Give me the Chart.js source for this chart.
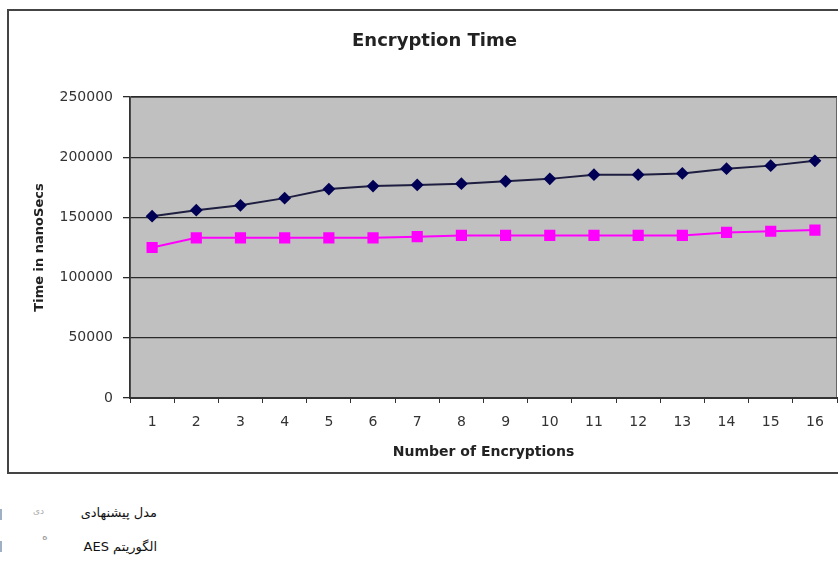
<!DOCTYPE html>
<html>
<head>
<meta charset="utf-8">
<script src="https://cdn.jsdelivr.net/npm/chart.js@4.4.1/dist/chart.umd.min.js"></script>
<style>
  html, body { margin: 0; padding: 0; background: #fff; }
  #page { position: relative; width: 838px; height: 561px; overflow: hidden; }
  #c { position: absolute; left: 0; top: 0; }
  .leg { position: absolute; right: 681px; direction: rtl; white-space: nowrap;
         font-family: "DejaVu Sans", sans-serif; font-size: 13px; color: #111; }
  .key { position: absolute; direction: rtl; white-space: nowrap;
         font-family: "DejaVu Sans", sans-serif; font-size: 9px; color: #aaa; }
  .sw { position: absolute; left: 0; width: 2px; height: 11px; background: #9fb0c4; }
</style>
</head>
<body>
<div id="page">
  <canvas id="c" width="838" height="480"></canvas>
  <div class="sw" style="top:509px"></div>
  <div class="key" style="left:33px; top:506px">دی</div>
  <div class="leg" style="top:505px">مدل پیشنهادی</div>
  <div class="sw" style="top:541px"></div>
  <div class="key" style="left:42px; top:530px; font-size:11px; color:#999">ه</div>
  <div class="leg" style="top:539px">الگوریتم AES</div>
</div>
<script>
// Encryption time per run, in nanoseconds
const categories = ['1', '2', '3', '4', '5', '6', '7', '8', '9', '10', '11', '12', '13', '14', '15', '16'];
const proposedModel = [151000, 156000, 160000, 166000, 173500, 176000, 177000, 178000,
                       180000, 182000, 185500, 185500, 186500, 190500, 193000, 197000];
const aesAlgorithm  = [125000, 133000, 133000, 133000, 133000, 133000, 134000, 135000,
                       135000, 135000, 135000, 135000, 135000, 137500, 138500, 139500];
const yTickValues = [0, 50000, 100000, 150000, 200000, 250000];
const seriesNames = ['مدل پیشنهادی', 'الگوریتم AES'];

const FONT = 'DejaVu Sans';
const INK = '#333333';

// Outer frame and grey plot panel
const framePlugin = {
  id: 'frame',
  beforeDraw(chart) {
    const { ctx, chartArea: a } = chart;
    ctx.save();
    ctx.fillStyle = '#ffffff';
    ctx.fillRect(0, 0, chart.width, chart.height);
    ctx.strokeStyle = '#444444';
    ctx.lineWidth = 2;
    ctx.strokeRect(8, 10, 840, 463);
    ctx.fillStyle = '#c0c0c0';
    ctx.fillRect(a.left, a.top, a.right - a.left, a.bottom - a.top);
    ctx.strokeStyle = '#666666';
    ctx.lineWidth = 1;
    ctx.strokeRect(a.left + 0.5, a.top + 0.5, a.right - a.left - 1, a.bottom - a.top - 1);
    ctx.restore();
  }
};

new Chart(document.getElementById('c'), {
  type: 'line',
  data: {
    labels: categories,
    datasets: [
      {
        label: seriesNames[0],
        data: proposedModel,
        borderColor: '#1e1e40',
        borderWidth: 2,
        pointStyle: 'rectRot',
        pointRadius: 5,
        pointBackgroundColor: '#000055',
        pointBorderColor: '#000055',
        tension: 0
      },
      {
        label: seriesNames[1],
        data: aesAlgorithm,
        borderColor: '#ff00ff',
        borderWidth: 2,
        pointStyle: 'rect',
        pointRadius: 6.5,
        pointBackgroundColor: '#ff00ff',
        pointBorderColor: '#ff00ff',
        tension: 0
      }
    ]
  },
  options: {
    responsive: false,
    animation: false,
    layout: { autoPadding: false, padding: { left: 32, right: 1, top: 0, bottom: 19 } },
    plugins: {
      legend: { display: false },
      tooltip: { enabled: false },
      title: {
        display: true,
        text: 'Encryption Time',
        color: '#222222',
        font: { family: FONT, size: 18, weight: 'bold' },
        padding: { top: 31, bottom: 44.4 }
      }
    },
    scales: {
      x: {
        offset: true,
        afterFit(s) { s.height = 63; s.paddingLeft = 0; s.paddingRight = 0; },
        grid: { offset: true, drawOnChartArea: false, drawTicks: true, tickLength: 5, color: INK },
        border: { color: INK, width: 2 },
        ticks: { color: INK, font: { family: FONT, size: 14 }, padding: 11, maxRotation: 0, autoSkip: false },
        title: {
          display: true,
          text: 'Number of Encryptions',
          color: '#222222',
          font: { family: FONT, size: 14, weight: 'bold' },
          padding: { top: 0, bottom: 0 }
        }
      },
      y: {
        min: 0,
        max: 250000,
        afterFit(s) { s.width = 98; },
        afterBuildTicks(s) { s.ticks = yTickValues.map(v => ({ value: v })); },
        grid: { color: '#2a2a2a', lineWidth: 1.3, tickLength: 7, drawTicks: true },
        border: { color: INK, width: 1.5 },
        ticks: { color: INK, font: { family: FONT, size: 14 }, padding: 10, callback: v => String(v) },
        title: {
          display: true,
          text: 'Time in nanoSecs',
          color: '#222222',
          font: { family: FONT, size: 13, weight: 'bold' },
          padding: { top: 0, bottom: 0 }
        }
      }
    }
  },
  plugins: [framePlugin]
});
</script>
</body>
</html>
